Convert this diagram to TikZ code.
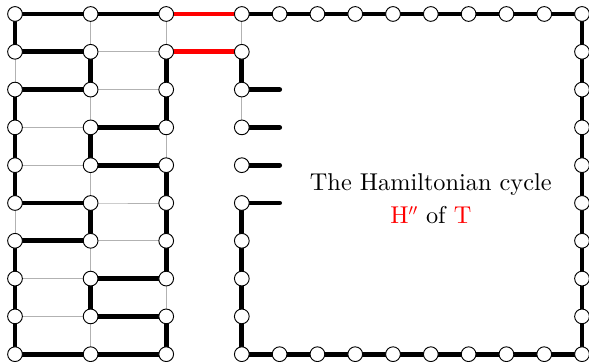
\documentclass[tikz,border=0pt]{standalone}
\usepackage{fontspec}
\newfontfamily\capfont{lmroman10-regular.otf}
\usetikzlibrary{backgrounds}
\begin{document}
\begin{tikzpicture}[
    x=1cm, y=-1cm,
    vertex/.style={circle, draw, fill=white, minimum size=0.39cm, inner sep=0pt, line width=0.7pt},
    grid line/.style={draw=black!30, line width=0.6pt},
    cycle edge/.style={draw, line width=3.7pt, line join=round},
    swap edge/.style={draw=red, line width=3.7pt},
    stub edge/.style={draw, line width=3.7pt, line cap=round}
]
    \useasboundingbox (-0.397,-0.370) rectangle (15.185,9.185);
    \foreach \k in {0,2,4,6}
        \foreach \j in {0,...,9}
            \node [vertex] (v-\k-\j) at (\k,\j) {};
    \foreach \k in {7,...,15} {
        \node [vertex] (v-\k-0) at (\k,0) {};
        \node [vertex] (v-\k-9) at (\k,9) {};
    }
    \foreach \j in {1,...,8}
        \node [vertex] (v-15-\j) at (15,\j) {};
    \foreach \j in {2,...,5}
        \coordinate (s-\j) at (7,\j);
    \node [align=center, font=\capfont\fontsize{18.3}{25.3}\selectfont] (caption) at (11.0,4.89)
        {The Hamiltonian cycle\\\textcolor{red}{H$''$} of \textcolor{red}{T}};
    \begin{scope}[on background layer]
        \foreach \j in {0,...,9}
            \draw [grid line] (v-0-\j.center) -- (v-2-\j.center) -- (v-4-\j.center);
        \foreach \k in {0,2,4}
            \draw [grid line] (v-\k-0.center) -- (v-\k-9.center);
        \draw [grid line] (v-6-0.center) -- (v-6-1.center);
        \draw [grid line] (v-6-2.center) -- (v-6-3.center);
        \draw [swap edge] (v-4-0.center) -- (v-6-0.center);
        \draw [swap edge] (v-4-1.center) -- (v-6-1.center);
        \draw [cycle edge] (v-6-2.center) -- (v-6-1.center);
        \draw [cycle edge] (v-4-1.center) -- (v-4-2.center) -- (v-4-3.center) -- (v-2-3.center)
            -- (v-2-4.center) -- (v-4-4.center) -- (v-4-5.center) -- (v-4-6.center)
            -- (v-4-7.center) -- (v-2-7.center) -- (v-2-8.center) -- (v-4-8.center)
            -- (v-4-9.center) -- (v-2-9.center) -- (v-0-9.center) -- (v-0-8.center)
            -- (v-0-7.center) -- (v-0-6.center) -- (v-2-6.center) -- (v-2-5.center)
            -- (v-0-5.center) -- (v-0-4.center) -- (v-0-3.center) -- (v-0-2.center)
            -- (v-2-2.center) -- (v-2-1.center) -- (v-0-1.center) -- (v-0-0.center)
            -- (v-2-0.center) -- (v-4-0.center);
        \draw [cycle edge] (v-6-0.center) -- (v-15-0.center) -- (v-15-9.center)
            -- (v-6-9.center) -- (v-6-5.center);
        \foreach \j in {2,...,5}
            \draw [stub edge] (v-6-\j.center) -- (s-\j);
    \end{scope}
\end{tikzpicture}
\end{document}
